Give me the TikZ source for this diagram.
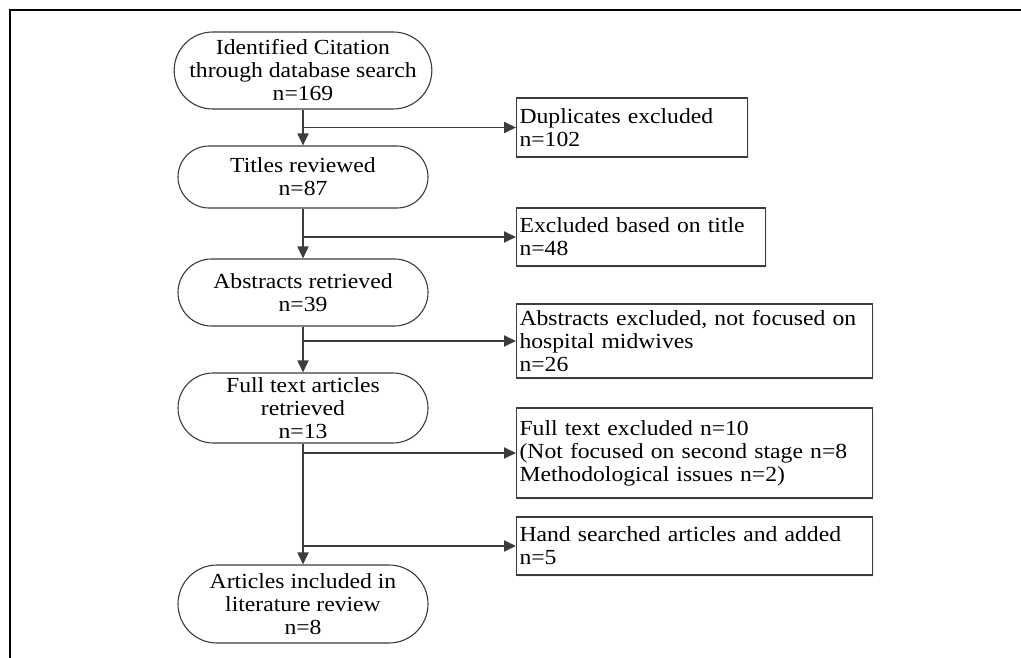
\documentclass[tikz,border=0pt]{standalone}
\usepackage{fontspec}
\setmainfont{Liberation Serif}[FakeStretch=1.1]
\usetikzlibrary{shapes.misc,arrows.meta,shadows}
\definecolor{linec}{HTML}{3C3C3C}
\tikzset{
  txt/.style={font=\fontsize{21.5pt}{23pt}\selectfont},
  stadium/.style={txt, draw=linec, line width=1.1pt, rounded rectangle, minimum width=250pt,
    inner sep=0pt, align=center, fill=white},
  exbox/.style={txt, draw=linec, line width=1.1pt, rectangle, anchor=west, inner xsep=3pt,
    inner ysep=0pt, align=left, fill=white,
    drop shadow={shadow xshift=1.5pt, shadow yshift=-1.5pt, fill=black!12}},
  flow/.style={draw=linec, line width=1.8pt, -{Triangle[length=12pt,width=11pt]}}
}
\begin{document}
\begin{tikzpicture}[x=1pt,y=-1pt]
\useasboundingbox (0,0) rectangle (1021,658);
\draw[line width=2.2pt] (10,658) -- (10,10) -- (1021,10);

\node[stadium, minimum height=77pt] (n1) at (303,70.5) {Identified Citation\\through database search\\n=169};
\node[stadium, minimum height=62pt] (n2) at (303,177) {Titles reviewed\\n=87};
\node[stadium, minimum height=67pt] (n3) at (303,292.5) {Abstracts retrieved\\n=39};
\node[stadium, minimum height=70pt] (n4) at (303,408) {Full text articles\\retrieved\\n=13};
\node[stadium, minimum height=78pt] (n5) at (303,604) {Articles included in\\literature review\\n=8};

\node[exbox, text width=225pt, minimum height=59pt] (b1) at (516,127.5) {Duplicates excluded\\n=102};
\node[exbox, text width=243pt, minimum height=58pt] (b2) at (516,237) {Excluded based on title\\n=48};
\node[exbox, text width=350pt, minimum height=74pt] (b3) at (516,341) {Abstracts excluded, not focused on\\hospital midwives\\n=26};
\node[exbox, text width=350pt, minimum height=90pt] (b4) at (516,453) {Full text excluded n=10\\(Not focused on second stage n=8\\Methodological issues n=2)};
\node[exbox, text width=350pt, minimum height=58pt] (b5) at (516,546) {Hand searched articles and added\\n=5};

\draw[flow] (n1.south) -- (n2.north);
\draw[flow] (n2.south) -- (n3.north);
\draw[flow] (n3.south) -- (n4.north);
\draw[flow] (n4.south) -- (n5.north);

\draw[flow] (n1.south |- b1.west) -- (b1.west);
\draw[flow] (n2.south |- b2.west) -- (b2.west);
\draw[flow] (n3.south |- b3.west) -- (b3.west);
\draw[flow] (n4.south |- b4.west) -- (b4.west);
\draw[flow] (n4.south |- b5.west) -- (b5.west);
\end{tikzpicture}
\end{document}
